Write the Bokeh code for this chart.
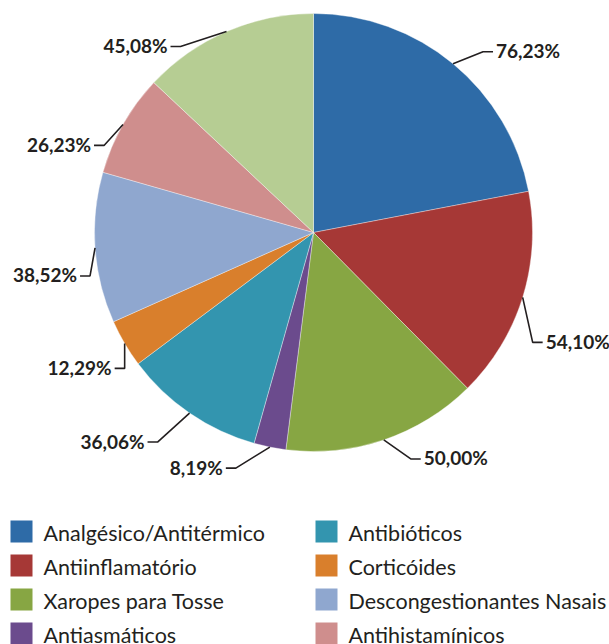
import math
from bokeh.plotting import figure
from bokeh.models import Range1d, ColumnDataSource
from bokeh.core.properties import value
from bokeh.embed import file_html
from bokeh.resources import INLINE

# ---- data ----
categories = ["Analgésico/Antitérmico", "Antiinflamatório", "Xaropes para Tosse",
              "Antiasmáticos", "Antibióticos", "Corticóides",
              "Descongestionantes Nasais", "Antihistamínicos", ""]
values = [76.23, 54.10, 50.00, 8.19, 36.06, 12.29, 38.52, 26.23, 45.08]
labels = ["76,23%", "54,10%", "50,00%", "8,19%", "36,06%", "12,29%", "38,52%", "26,23%", "45,08%"]
colors = ["#2E6BA7", "#A63836", "#87A643", "#6B4B8D", "#3395AF", "#D97F2C",
          "#8FA7CF", "#CF8E8D", "#B6CD93"]

# ---- layout / style (screen px of the 609x644 window, y down) ----
W, H = 609, 644
CX, CY, R = 313, 232, 219
# leader elbow offsets from slice edge midpoint (dx, dy), and side
leader = [(30, -12, 1), (10, 45, 1), (27, 19, 1), (-34, 21, -1), (-32, 29, -1),
          (0, 25, -1), (-5, 28, -1), (-19, 21, -1), (-46, 15, -1)]
TAIL, GAP = 10, 3
TXT = "#231F20"
FONT = "Lato"

def Y(iy):
    return H - iy

p = figure(width=W, height=H, output_backend="svg", toolbar_location=None,
           x_range=Range1d(0, W), y_range=Range1d(0, H),
           min_border=0, outline_line_color=None)
p.axis.visible = False
p.grid.visible = False
p.background_fill_color = "white"
p.border_fill_color = "white"

total = sum(values)
starts, ends, mids = [], [], []
cum = 0.0
for v in values:
    a0 = math.pi / 2 - (cum + v) / total * 2 * math.pi
    a1 = math.pi / 2 - cum / total * 2 * math.pi
    starts.append(a0)
    ends.append(a1)
    mids.append(math.pi / 2 - (cum + v / 2) / total * 2 * math.pi)
    cum += v

src = ColumnDataSource(dict(start=starts, end=ends, color=colors))
p.wedge(x=CX, y=Y(CY), radius=R, start_angle="start", end_angle="end",
        fill_color="color", line_color="white", line_width=0.6, line_alpha=0.6,
        source=src)

# leaders + labels
for m, lab, (dx, dy, side) in zip(mids, labels, leader):
    ex = CX + R * math.cos(m)
    ey = CY - R * math.sin(m)
    bx, by = ex + dx, ey + dy
    tx = bx + side * TAIL
    p.line([ex, bx, tx], [Y(ey), Y(by), Y(by)], line_color=TXT, line_width=1.6)
    p.text(x=[tx + side * GAP], y=[Y(by) + 1], text=[lab],
           text_font=value(FONT), text_font_style="bold", text_font_size="19px",
           text_color=TXT, text_baseline="alphabetic",
           text_align="left" if side > 0 else "right")

# legend (first 8 visible entries, two columns)
col_x = [10, 315]
row_y = [531, 565, 599, 633]
lx, ly, lc, tx_, tl = [], [], [], [], []
for i in range(8):
    c, r = divmod(i, 4)
    lx.append(col_x[c] + 11)
    ly.append(Y(row_y[r]))
    lc.append(colors[i])
    tx_.append(col_x[c] + 33)
    tl.append(categories[i])
p.rect(x=lx, y=ly, width=22, height=22, width_units="screen", height_units="screen",
       fill_color=lc, line_color=None)
p.text(x=tx_, y=[v - 1 for v in ly], text=tl, text_font=value(FONT), text_font_size="21.5px",
       text_color=TXT, text_baseline="middle", text_align="left")

open("out.html", "w").write(file_html(p, INLINE))
